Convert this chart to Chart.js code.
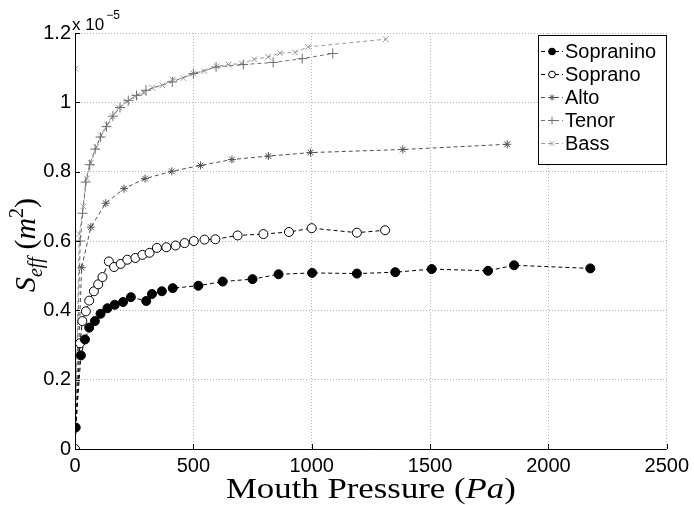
<!DOCTYPE html>
<html>
<head>
<meta charset="utf-8">
<script src="https://cdn.jsdelivr.net/npm/chart.js@4.4.1/dist/chart.umd.min.js"></script>
<style>
html, body { margin: 0; padding: 0; background: #fff; }
</style>
</head>
<body>
<canvas id="graficoSeff" width="694" height="505"></canvas>
<script>
// valores en unidades de 1e-5 m^2
const xTicks = [0, 500, 1000, 1500, 2000, 2500];
const yTicks = [0, 0.2, 0.4, 0.6, 0.8, 1, 1.2];

const sopraninoX = [3, 25, 42, 60, 84, 108, 137, 168, 203, 236, 301, 325, 367, 413, 521, 624, 750, 860, 1002, 1191, 1353, 1507, 1745, 1855, 2177];
const sopraninoY = [0.062, 0.27, 0.316, 0.35, 0.369, 0.39, 0.406, 0.416, 0.424, 0.438, 0.427, 0.447, 0.455, 0.464, 0.471, 0.483, 0.49, 0.504, 0.508, 0.506, 0.51, 0.519, 0.514, 0.53, 0.521];

const sopranoX = [0, 21, 31, 46, 60, 80, 98, 116, 143, 165, 193, 221, 255, 285, 315, 346, 386, 425, 463, 502, 547, 593, 687, 796, 904, 1000, 1191, 1310];
const sopranoY = [0, 0.305, 0.369, 0.397, 0.428, 0.455, 0.475, 0.496, 0.541, 0.525, 0.534, 0.546, 0.551, 0.56, 0.566, 0.58, 0.582, 0.587, 0.594, 0.6, 0.604, 0.605, 0.616, 0.62, 0.626, 0.637, 0.624, 0.631];

const altoX = [0, 28, 67, 130, 207, 296, 409, 530, 663, 817, 995, 1385, 1826];
const altoY = [0, 0.523, 0.64, 0.709, 0.751, 0.78, 0.801, 0.818, 0.835, 0.845, 0.855, 0.864, 0.879];

const tenorX = [0, 22, 32, 45, 62, 85, 108, 133, 160, 190, 225, 260, 300, 411, 500, 596, 711, 837, 960, 1089];
const tenorY = [0, 0.6, 0.68, 0.77, 0.82, 0.865, 0.9, 0.93, 0.96, 0.985, 1.005, 1.02, 1.035, 1.059, 1.083, 1.102, 1.109, 1.115, 1.126, 1.141];

const bassX = [2, 0, 18, 35, 50, 67, 91, 109, 135, 159, 186, 219, 254, 291, 327, 369, 411, 458, 500, 547, 598, 649, 705, 757, 816, 866, 929, 985, 1313];
const bassY = [1.097, 0, 0.62, 0.7, 0.78, 0.825, 0.871, 0.905, 0.936, 0.96, 0.985, 1.003, 1.017, 1.027, 1.042, 1.049, 1.066, 1.07, 1.083, 1.09, 1.104, 1.109, 1.112, 1.124, 1.131, 1.142, 1.144, 1.16, 1.182];

function puntos(xs, ys) {
    return xs.map(function (x, i) { return { x: x, y: ys[i] }; });
}

const SANS = '"Liberation Sans", Arial, sans-serif';
const SERIF = '"Liberation Serif", "Times New Roman", serif';

function serie(label, xs, ys, color, estilo, radio, relleno) {
    return {
        label: label,
        data: puntos(xs, ys),
        showLine: true,
        borderColor: color,
        borderWidth: 1,
        borderDash: [4, 3],
        pointStyle: estilo,
        pointRadius: radio,
        pointBorderColor: color,
        pointBackgroundColor: relleno,
        pointBorderWidth: 1
    };
}

// texto con partes de distinta fuente, centrado en 0
function textoMixto(ctx, partes, y) {
    let total = 0;
    partes.forEach(function (p) { ctx.font = p[1]; total += ctx.measureText(p[0]).width; });
    let cx = -total / 2;
    partes.forEach(function (p) {
        ctx.font = p[1];
        ctx.fillText(p[0], cx, y + (p[2] || 0));
        cx += ctx.measureText(p[0]).width;
    });
}

// ejes, titulos y leyenda a mano (estilo MATLAB)
const extras = {
    id: 'extras',
    afterDraw: function (chart) {
        const ctx = chart.ctx;
        const a = chart.chartArea;
        const sx = chart.scales.x;
        const sy = chart.scales.y;
        ctx.save();

        // ejes
        ctx.strokeStyle = '#000';
        ctx.lineWidth = 1;
        ctx.setLineDash([]);
        ctx.beginPath();
        ctx.moveTo(a.left + 0.5, a.top);
        ctx.lineTo(a.left + 0.5, a.bottom + 0.5);
        ctx.lineTo(a.right, a.bottom + 0.5);
        ctx.stroke();

        // marcas hacia dentro
        ctx.beginPath();
        xTicks.forEach(function (v) {
            const px = Math.round(sx.getPixelForValue(v)) + 0.5;
            ctx.moveTo(px, a.bottom);
            ctx.lineTo(px, a.bottom - 5);
        });
        yTicks.forEach(function (v) {
            const py = Math.round(sy.getPixelForValue(v)) + 0.5;
            ctx.moveTo(a.left, py);
            ctx.lineTo(a.left + 5, py);
        });
        ctx.stroke();

        // multiplicador
        ctx.fillStyle = '#000';
        ctx.textBaseline = 'alphabetic';
        ctx.textAlign = 'left';
        ctx.font = '17px ' + SANS;
        ctx.fillText('x 10', a.left - 3, a.top - 3);
        const w10 = ctx.measureText('x 10').width;
        ctx.font = '12px ' + SANS;
        ctx.fillText('\u22125', a.left - 3 + w10 + 2, a.top - 14);

        // titulo eje x
        ctx.save();
        ctx.translate((a.left + a.right) / 2, 498);
        ctx.scale(1.2, 1);
        textoMixto(ctx, [
            ['Mouth Pressure (', '29px ' + SERIF],
            ['Pa', 'italic 29px ' + SERIF],
            [')', '29px ' + SERIF]
        ], 0);
        ctx.restore();

        // titulo eje y
        ctx.save();
        ctx.translate(35, (a.top + a.bottom) / 2 + 4);
        ctx.rotate(-Math.PI / 2);
        textoMixto(ctx, [
            ['S', 'italic 30px ' + SERIF],
            ['eff', 'italic 20px ' + SERIF, 7],
            [' (', '30px ' + SERIF],
            ['m', 'italic 30px ' + SERIF],
            ['2', '20px ' + SERIF, -12],
            [')', '30px ' + SERIF]
        ], 0);
        ctx.restore();

        // leyenda
        const lx = 538, ly = 35, lw = 128, lh = 129;
        ctx.fillStyle = '#fff';
        ctx.fillRect(lx, ly, lw, lh);
        ctx.strokeStyle = '#000';
        ctx.lineWidth = 1;
        ctx.strokeRect(lx + 0.5, ly + 0.5, lw, lh);
        chart.data.datasets.forEach(function (ds, i) {
            const y = ly + 16 + i * 23;
            ctx.strokeStyle = ds.borderColor;
            ctx.setLineDash([4, 3]);
            ctx.beginPath();
            ctx.moveTo(lx + 3, y + 0.5);
            ctx.lineTo(lx + 25, y + 0.5);
            ctx.stroke();
            ctx.setLineDash([]);
            ctx.fillStyle = ds.pointBackgroundColor;
            ctx.strokeStyle = ds.pointBorderColor;
            Chart.helpers.drawPoint(ctx, {
                pointStyle: ds.pointStyle,
                radius: ds.pointRadius * 0.75,
                rotation: 0,
                borderWidth: 1
            }, lx + 14, y + 0.5);
            ctx.fillStyle = '#000';
            ctx.font = '20px ' + SANS;
            ctx.textBaseline = 'middle';
            ctx.fillText(ds.label, lx + 27, y + 1);
        });
        ctx.restore();
    }
};

new Chart(document.getElementById('graficoSeff'), {
    type: 'scatter',
    data: {
        datasets: [
            serie('Sopranino', sopraninoX, sopraninoY, '#000000', 'circle', 4.5, '#000000'),
            serie('Soprano', sopranoX, sopranoY, '#000000', 'circle', 4.5, '#ffffff'),
            serie('Alto', altoX, altoY, '#505050', 'star', 4, '#505050'),
            serie('Tenor', tenorX, tenorY, '#707070', 'cross', 5, '#707070'),
            serie('Bass', bassX, bassY, '#9a9a9a', 'crossRot', 4, '#9a9a9a')
        ]
    },
    options: {
        responsive: false,
        animation: false,
        layout: { padding: { left: 0, right: 24, top: 33, bottom: 0 } },
        plugins: {
            legend: { display: false },
            tooltip: { enabled: false }
        },
        scales: {
            x: {
                type: 'linear',
                min: 0,
                max: 2500,
                afterBuildTicks: function (s) { s.ticks = xTicks.map(function (v) { return { value: v }; }); },
                afterFit: function (s) { s.height = 56; },
                grid: { color: '#b4b4b4', drawTicks: false, lineWidth: 1 },
                border: { display: false, dash: [1, 2] },
                ticks: {
                    padding: 5,
                    color: '#000',
                    maxRotation: 0,
                    font: { family: SANS, size: 20 },
                    callback: function (v) { return String(v); }
                }
            },
            y: {
                type: 'linear',
                min: 0,
                max: 1.2,
                afterBuildTicks: function (s) { s.ticks = yTicks.map(function (v) { return { value: v }; }); },
                afterFit: function (s) { s.width = 75; },
                grid: { color: '#b4b4b4', drawTicks: false, lineWidth: 1 },
                border: { display: false, dash: [1, 2] },
                ticks: {
                    padding: 4,
                    color: '#000',
                    font: { family: SANS, size: 20 },
                    callback: function (v) { return String(Math.round(v * 10) / 10); }
                }
            }
        }
    },
    plugins: [extras]
});
</script>
</body>
</html>
